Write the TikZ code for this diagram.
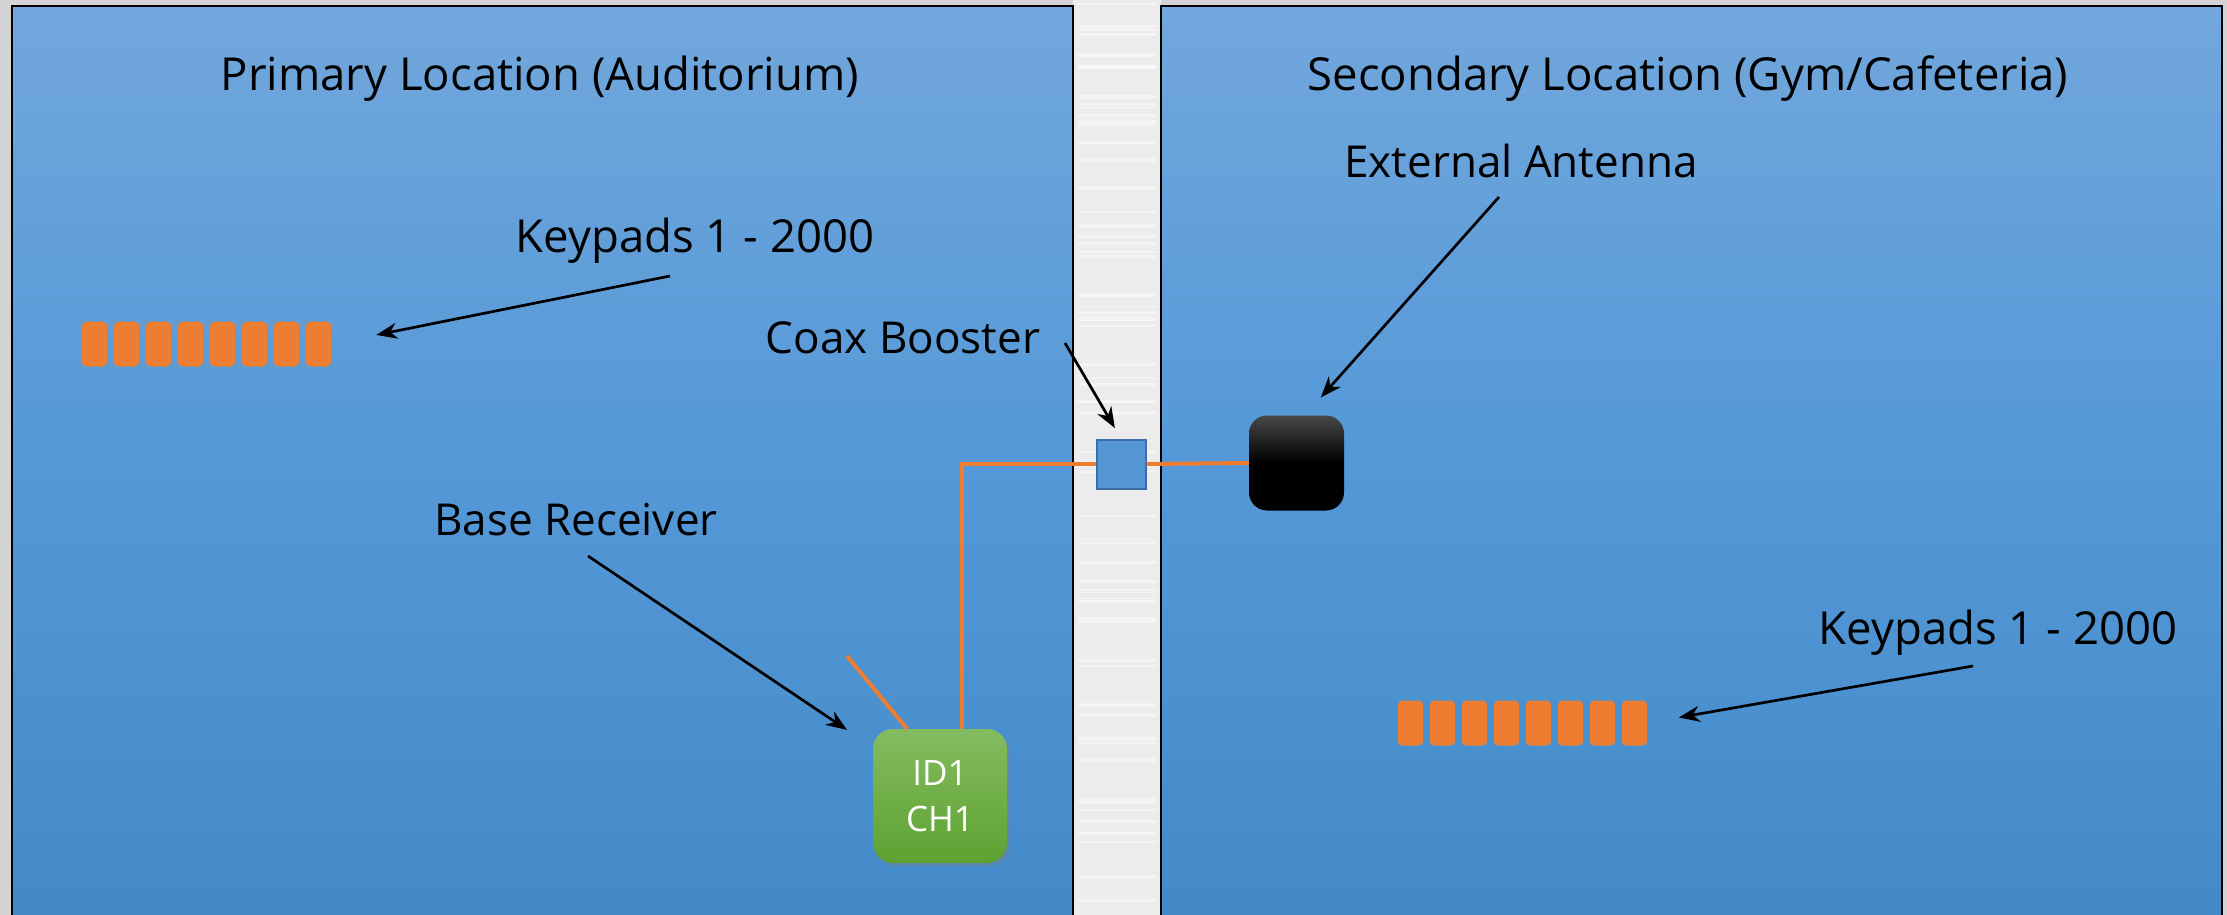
\documentclass[tikz,border=0pt]{standalone}
\usepackage{fontspec}
\setmainfont{Open Sans}
\usetikzlibrary{arrows.meta,shadows}

\definecolor{roomtop}{RGB}{113,167,220}
\definecolor{roommid}{RGB}{84,152,216}
\definecolor{roombot}{RGB}{67,137,199}
\definecolor{kporange}{RGB}{237,125,49}
\definecolor{rxtop}{RGB}{132,188,96}
\definecolor{rxbot}{RGB}{94,162,50}
\definecolor{boosterfill}{RGB}{85,150,212}
\definecolor{boosterline}{RGB}{60,110,165}
\definecolor{wallgray}{RGB}{236,236,236}
\definecolor{bggray}{RGB}{212,212,212}

\tikzset{
  room/.style={draw=black, line width=2pt, top color=roomtop, bottom color=roombot, middle color=roommid},
  lbl/.style={font=\fontsize{44}{50}\selectfont, anchor=base, inner sep=0pt},
  biglbl/.style={lbl, font=\fontsize{45.5}{52}\selectfont},
  keypad/.style={fill=kporange, rounded corners=4pt, minimum width=25pt, minimum height=45pt, inner sep=0pt},
  receiver/.style={rounded corners=20pt, minimum size=134pt, inner sep=0pt,
    top color=rxtop, bottom color=rxbot, text=white, align=center, font=\fontsize{35}{46}\selectfont,
    drop shadow={opacity=0.35, shadow xshift=3pt, shadow yshift=-3pt}},
  booster/.style={draw=boosterline, fill=boosterfill, line width=2pt, minimum size=49pt, inner sep=0pt},
  antenna/.style={rounded corners=18pt, minimum size=95pt, inner sep=0pt,
    top color=black!72, bottom color=black, middle color=black},
  pointer/.style={line width=2.7pt, -{Stealth[length=21pt,width=16pt]}},
  coax/.style={kporange, line width=4pt},
}

\begin{document}
\begin{tikzpicture}[x=1pt,y=-1pt]
  \clip (0,0) rectangle (2227,915);
  \fill[bggray] (0,0) rectangle (2227,915);
  \fill[wallgray] (1073,0) rectangle (1161,915);
  % brushed look of the wall
  \pgfmathsetseed{7}
  \foreach \k in {1,...,70} {
    \pgfmathsetmacro{\yy}{915*rnd}
    \pgfmathsetmacro{\ww}{1+3*rnd}
    \draw[white, opacity=0.45, line width=\ww pt] (1078,\yy) -- (1156,\yy);
  }

  % the two rooms
  \draw[room] (12,6) rectangle (1073,930);
  \draw[room] (1161,6) rectangle (2222,930);

  % labels
  \node[biglbl] (titleL) at (540,91) {Primary Location (Auditorium)};
  \node[biglbl] (titleR) at (1688,91) {Secondary Location (Gym/Cafeteria)};
  \node[biglbl] (kpLlabel) at (695,252) {Keypads 1 - 2000};
  \node[lbl] (coaxlabel) at (903,353) {Coax Booster};
  \node[lbl] (rxlabel) at (576,535) {Base Receiver};
  \node[lbl] (antlabel) at (1521,177) {External Antenna};
  \node[biglbl] (kpRlabel) at (1998,644) {Keypads 1 - 2000};

  % keypads
  \foreach \i in {1,...,8} {
    \node[keypad] (kpL\i) at (62.5+32*\i,344) {};
    \node[keypad] (kpR\i) at (1378.5+32*\i,723) {};
  }

  % devices
  \node[receiver] (rx) at (940,796) {ID1\\CH1};
  \node[booster] (booster) at (1121,464) {};
  \node[antenna] (ant) at (1296.5,463) {};

  % cable
  \coordinate (stub) at (847,656);
  \draw[coax] ([xshift=22pt]rx.north) |- (booster.west);
  \draw[coax] (booster.east) -- (ant.west);
  \draw[coax] ([xshift=-33pt]rx.north) -- (stub);

  % pointers
  \coordinate (kpLtail) at (670,276);
  \coordinate (coaxtail) at (1065,343);
  \coordinate (rxtail) at (588,556);
  \coordinate (anttail) at (1499,197);
  \coordinate (kpRtail) at (1973,666);
  \draw[pointer, shorten >=46pt] (kpLtail) -- (kpL8.east);
  \draw[pointer, shorten >=12pt] (coaxtail) -- (booster.north);
  \draw[pointer, shorten >=31pt] (rxtail) -- (rx.144);
  \draw[pointer, shorten >=24pt] (anttail) -- (ant.80);
  \draw[pointer, shorten >=32pt] (kpRtail) -- (kpR8.east);
\end{tikzpicture}
\end{document}
